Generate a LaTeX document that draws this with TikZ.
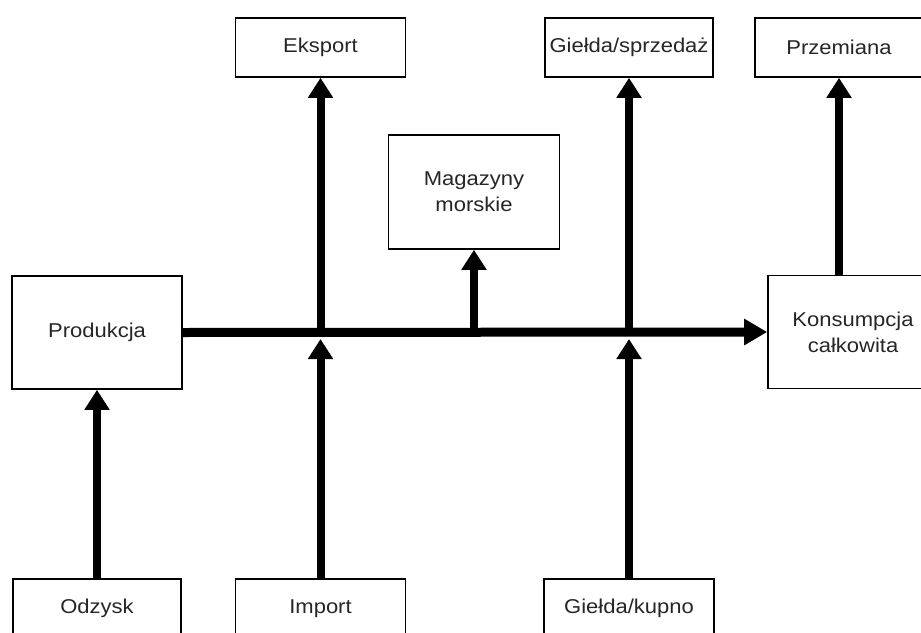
\documentclass[tikz,border=0pt]{standalone}
\usepackage{fontspec}
\setmainfont{Liberation Sans}[FakeStretch=1.1]
\usetikzlibrary{arrows.meta}
\begin{document}
\begin{tikzpicture}[x=1pt,y=-1pt,
  box/.style={draw=black,line width=1.6pt,fill=white,inner sep=0pt,
    minimum width=170pt,minimum height=59pt,align=center,
    font=\fontsize{20}{26}\selectfont,text=black!85},
  tallbox/.style={box,minimum height=113pt},
  flow/.style={line width=8pt,-{Triangle[length=20pt,width=24pt]}},
  trunk/.style={line width=9pt,-{Triangle[length=23pt,width=25pt]}},
  stem/.style={line width=8pt}]
\useasboundingbox (0,0) rectangle (921,632);
\clip (0,0) rectangle (921,632);

% top row
\node[box] (eksport)   at (320.5,47.5) {Eksport};
\node[box,minimum width=168pt] (sprzedaz) at (629,47.5) {Giełda/sprzedaż};
\node[box,minimum width=168pt] (przemiana) at (839,47.5) {Przemiana};

% storage
\node[box,minimum width=171pt,minimum height=114pt] (magazyny) at (474,192)
  {Magazyny\\morskie};

% middle row
\node[tallbox] (produkcja)  at (97,332.5) {Produkcja};
\node[tallbox] (konsumpcja) at (853,332) {Konsumpcja\\całkowita};

% bottom row
\node[box,minimum width=168pt] (odzysk) at (97,608.5) {Odzysk};
\node[box] (import) at (320.5,608.5) {Import};
\node[box] (kupno)  at (629,608.5) {Giełda/kupno};

% junctions on the main flow
\coordinate (jE) at (320.5,332);
\coordinate (jG) at (629,332);
\coordinate (jM) at (474,332);
\coordinate (jI) at (320.5,339);
\coordinate (jK) at (629,339);

% main flow
\draw[trunk] (produkcja.east) -- (konsumpcja.west);

% outgoing branches
\draw[flow] (jE) -- (eksport.south);
\draw[flow] (jG) -- (sprzedaz.south);
\draw[flow] (jM) -- (magazyny.south);
\draw[flow] (przemiana.south |- konsumpcja.north) -- (przemiana.south);

% incoming branches
\draw[flow] (odzysk.north) -- (produkcja.south);
\draw[flow] (import.north) -- (jI);
\draw[flow] (kupno.north) -- (jK);
\end{tikzpicture}
\end{document}
